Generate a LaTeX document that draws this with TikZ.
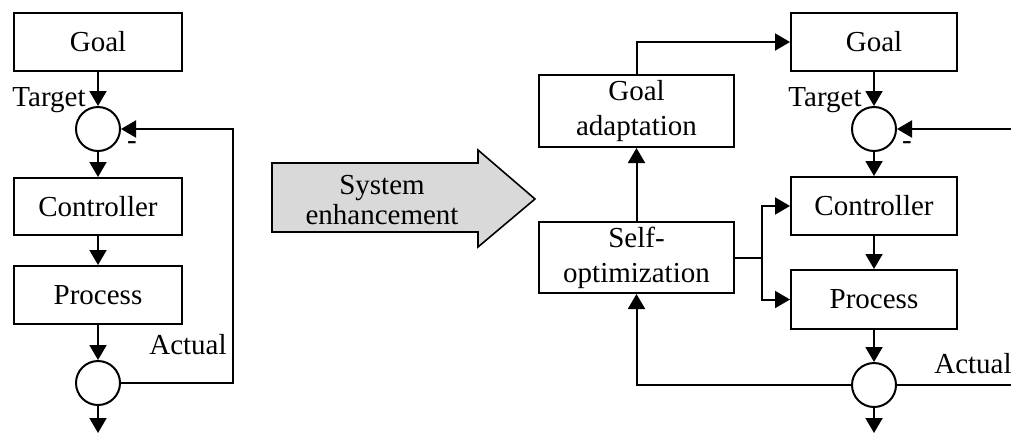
\documentclass[tikz,border=0pt]{standalone}
\usepackage{fontspec}
\setmainfont{Liberation Serif}
\usetikzlibrary{arrows.meta}
\begin{document}
\begin{tikzpicture}[x=0.5pt,y=-0.5pt,
  every node/.style={font=\fontsize{14.5}{17.5}\selectfont, inner sep=0pt},
  blk/.style={draw, line width=1pt, align=center},
  sumc/.style={draw, circle, line width=1pt, minimum size=22pt},
  lbl/.style={},
  conn/.style={line width=1pt},
  arr/.style={conn, -{Triangle[length=7.5pt,width=8.5pt]}}
]
\useasboundingbox (0,0) rectangle (1011,434);
% ---------- left loop ----------
\node[blk, minimum width=84pt, minimum height=29pt] (goalL) at (98,41.5) {Goal};
\node[sumc] (sumL) at (98,129) {};
\node[blk, minimum width=84pt, minimum height=28.5pt] (ctrlL) at (98,206.5) {Controller};
\node[blk, minimum width=84pt, minimum height=29pt] (procL) at (98,295) {Process};
\node[sumc] (outL) at (98,383) {};
\coordinate (endL) at (98,433);
\coordinate (fbL) at (233,383);
\node[lbl] (targetL) at (49,100) {Target};
\node[lbl] (minusL) at (132,146) {-};
\node[lbl] (actualL) at (188,345) {Actual};
\draw[arr] (goalL.south) -- (sumL.north);
\draw[arr] (sumL.south) -- (ctrlL.north);
\draw[arr] (ctrlL.south) -- (procL.north);
\draw[arr] (procL.south) -- (outL.north);
\draw[arr] (outL.south) -- (endL);
\draw[arr] (outL.east) -- (fbL) |- (sumL.east);
% ---------- middle arrow ----------
\draw[line width=0.8pt, fill=black!15] (272,163) -- (478,163) -- (478,150) -- (535,199)
  -- (478,247) -- (478,232) -- (272,232) -- cycle;
\node[align=center, font=\fontsize{14.5}{15}\selectfont] (enh) at (382,200) {System\\enhancement};
% ---------- right loop ----------
\node[blk, minimum width=83pt, minimum height=29pt] (goalR) at (874,42) {Goal};
\node[blk, minimum width=97.5pt, minimum height=36pt] (adaptR) at (636.5,111) {Goal\\adaptation};
\node[sumc] (sumR) at (874,129) {};
\node[blk, minimum width=83pt, minimum height=29pt] (ctrlR) at (874,206) {Controller};
\node[blk, minimum width=83pt, minimum height=29.5pt] (procR) at (874,299.5) {Process};
\node[blk, minimum width=97.5pt, minimum height=35.5pt] (selfR) at (636.5,257.5) {Self-\\optimization};
\node[sumc] (outR) at (874,385) {};
\coordinate (endR) at (874,433);
\coordinate (splitR) at (762,257.5);
\coordinate (inR) at (1011,129);
\coordinate (exR) at (1011,385);
\node[lbl] (targetR) at (825,100) {Target};
\node[lbl] (minusR) at (907,146) {-};
\node[lbl] (actualR) at (973,364) {Actual};
\draw[arr] (adaptR.north) |- (goalR.west);
\draw[arr] (goalR.south) -- (sumR.north);
\draw[arr] (sumR.south) -- (ctrlR.north);
\draw[arr] (ctrlR.south) -- (procR.north);
\draw[arr] (procR.south) -- (outR.north);
\draw[arr] (outR.south) -- (endR);
\draw[arr] (selfR.north) -- (adaptR.south);
\draw[conn] (selfR.east) -- (splitR);
\draw[arr] (splitR) |- (ctrlR.west);
\draw[arr] (splitR) |- (procR.west);
\draw[arr] (outR.west) -| (selfR.south);
\draw[conn] (outR.east) -- (exR);
\draw[arr] (inR) -- (sumR.east);
\end{tikzpicture}
\end{document}
